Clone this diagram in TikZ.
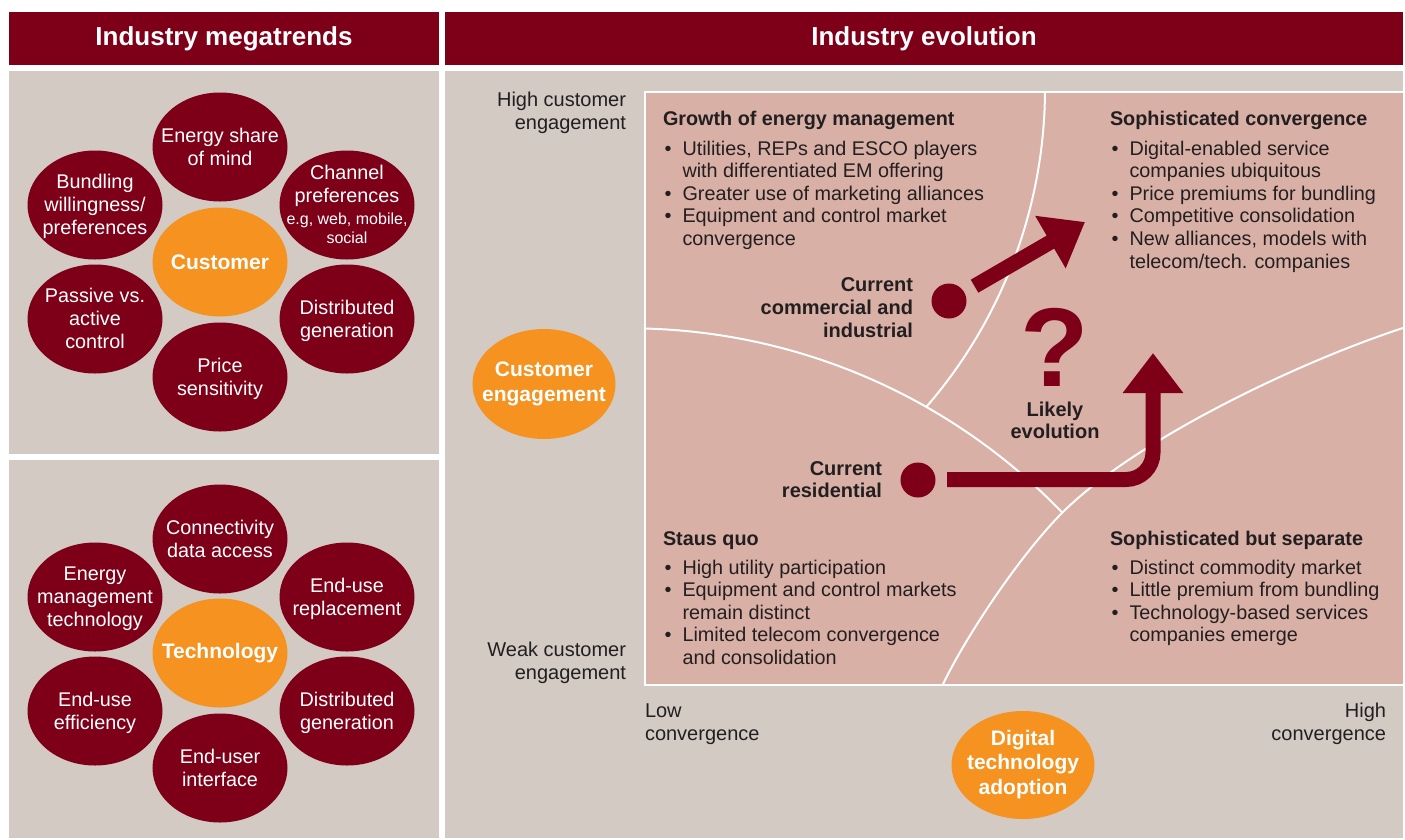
\documentclass[tikz,border=0pt]{standalone}
\usepackage{fontspec}
\setmainfont{Liberation Sans}
\usetikzlibrary{shapes.geometric,arrows.meta}
\definecolor{wine}{RGB}{125,0,24}
\definecolor{orng}{RGB}{245,146,32}
\definecolor{panel}{RGB}{210,202,195}
\definecolor{rose}{RGB}{217,176,166}
\definecolor{ink}{RGB}{35,31,32}
\newcommand\bul{\makebox[19.5pt][l]{\hspace{1.5pt}\textbullet}}
\newcommand\ind{\hspace*{19.5pt}}
\begin{document}
\begin{tikzpicture}[x=1pt,y=-1pt,
  every node/.style={inner sep=0pt, outer sep=0pt},
  hdrtext/.style={text=white, font=\bfseries\fontsize{26}{30}\selectfont, anchor=base},
  darkell/.style={ellipse, fill=wine, minimum width=135pt, minimum height=109pt},
  orgell/.style={ellipse, fill=orng, minimum width=135pt, minimum height=109pt},
  axisell/.style={ellipse, fill=orng, minimum width=143pt, minimum height=109pt},
  ctext/.style={text=white, font=\fontsize{19.8}{23}\selectfont, yshift=-2pt},
  cbold/.style={text=white, font=\bfseries\fontsize{21}{24.5}\selectfont},
  qtext/.style={text=ink, font=\fontsize{19.8}{22.6}\selectfont, anchor=base west},
  lbl/.style={text=ink, font=\fontsize{20}{22.8}\selectfont},
  blbl/.style={text=ink, font=\bfseries\fontsize{20}{22.8}\selectfont},
  bigdot/.style={circle, fill=wine, minimum size=35pt},
  wline/.style={draw=white, line width=2pt},
  bigarrow/.style={draw=wine, line width=15pt, -{Triangle[length=40pt 0 0,width=58pt 0 0]}},
]
\useasboundingbox (0,0) rectangle (1405,839);
\fill[white] (0,0) rectangle (1405,839);
% header bars and panels
\fill[wine] (9,12) rectangle (439,65);
\fill[wine] (445,12) rectangle (1403,65);
\fill[panel] (9,71) rectangle (439,454);
\fill[panel] (9,460) rectangle (439,838);
\fill[panel] (445,71) rectangle (1403,838);
\node[hdrtext] (hL) at (224,45.7) {Industry megatrends};
\node[hdrtext] (hR) at (924,45.7) {Industry evolution};

% customer group
\node[orgell] (cust) at (220,262) {};
\node[cbold] at (cust) {Customer};
\node[darkell] (c1) at (220,147) {};
\node[ctext] at (c1) {\begin{tabular}{@{}c@{}}Energy share\\of mind\end{tabular}};
\node[darkell] (c2) at (95,205) {};
\node[ctext] at (c2) {\begin{tabular}{@{}c@{}}Bundling\\willingness/\\preferences\end{tabular}};
\node[darkell] (c3) at (347,205) {};
\node[ctext] at (c3) {\begin{tabular}{@{}c@{}}Channel\\preferences\\[-1pt]\fontsize{16}{19}\selectfont e.g, web, mobile,\\[-4pt]\fontsize{16}{19}\selectfont social\end{tabular}};
\node[darkell] (c4) at (95,319) {};
\node[ctext] at (c4) {\begin{tabular}{@{}c@{}}Passive vs.\\active\\control\end{tabular}};
\node[darkell] (c5) at (347,319) {};
\node[ctext] at (c5) {\begin{tabular}{@{}c@{}}Distributed\\generation\end{tabular}};
\node[darkell] (c6) at (220,377) {};
\node[ctext] at (c6) {\begin{tabular}{@{}c@{}}Price\\sensitivity\end{tabular}};

% technology group
\node[orgell] (tech) at (220,653) {};
\node[cbold] at (tech) {Technology};
\node[darkell] (t1) at (220,539) {};
\node[ctext] at (t1) {\begin{tabular}{@{}c@{}}Connectivity\\data access\end{tabular}};
\node[darkell] (t2) at (95,597) {};
\node[ctext] at (t2) {\begin{tabular}{@{}c@{}}Energy\\management\\technology\end{tabular}};
\node[darkell] (t3) at (347,597) {};
\node[ctext] at (t3) {\begin{tabular}{@{}c@{}}End-use\\replacement\end{tabular}};
\node[darkell] (t4) at (95,711) {};
\node[ctext] at (t4) {\begin{tabular}{@{}c@{}}End-use\\efficiency\end{tabular}};
\node[darkell] (t5) at (347,711) {};
\node[ctext] at (t5) {\begin{tabular}{@{}c@{}}Distributed\\generation\end{tabular}};
\node[darkell] (t6) at (220,768) {};
\node[ctext] at (t6) {\begin{tabular}{@{}c@{}}End-user\\interface\end{tabular}};

% matrix
\fill[rose] (645,92) rectangle (1403,685);
\draw[wline] (1403,92) -- (645,92) -- (645,685) -- (1403,685);
\coordinate (cA) at (629.2,929.3);
\coordinate (cB) at (559.2,88.75);
\draw[wline] (cA) ++(-88.5:601) arc[start angle=-88.5, end angle=-43.89, radius=601] coordinate (jC);
\coordinate (jA) at ([shift={(-60.38:601)}]cA);
\draw[wline] (cB) ++(0.4:485.8) arc[start angle=0.4, end angle=40.9, radius=485.8];
\draw[wline] (943,684) .. controls (970,629) and +(-39,39) .. (jC)
  .. controls +(70.7,-70.7) and (1293,364) .. (1403,328);

% axis labels
\node[lbl, anchor=base east] (hiE) at (626,106.7) {\begin{tabular}[t]{@{}r@{}}High customer\\engagement\end{tabular}};
\node[lbl, anchor=base east] (loE) at (626,656.7) {\begin{tabular}[t]{@{}r@{}}Weak customer\\engagement\end{tabular}};
\node[lbl, anchor=base west] (loC) at (645,717.7) {\begin{tabular}[t]{@{}l@{}}Low\\convergence\end{tabular}};
\node[lbl, anchor=base east] (hiC) at (1386,717.7) {\begin{tabular}[t]{@{}r@{}}High\\convergence\end{tabular}};
\node[axisell, minimum height=110pt] (ce) at (544,384) {};
\node[cbold, font=\bfseries\fontsize{21}{24.3}\selectfont] at (ce) {\begin{tabular}{@{}c@{}}Customer\\engagement\end{tabular}};
\node[axisell, minimum height=108pt] (dta) at (1023,765) {};
\node[cbold, font=\bfseries\fontsize{21}{24.5}\selectfont] at (dta) {\begin{tabular}{@{}c@{}}Digital\\technology\\adoption\end{tabular}};

% quadrant texts
\node[qtext] (qTL) at (663,125.5) {\begin{tabular}[t]{@{}l@{}}\textbf{Growth of energy management}\\[7pt]\bul Utilities, REPs and ESCO players\\\ind with differentiated EM offering\\\bul Greater use of marketing alliances\\\bul Equipment and control market\\\ind convergence\end{tabular}};
\node[qtext] (qTR) at (1110,125.5) {\begin{tabular}[t]{@{}l@{}}\textbf{Sophisticated convergence}\\[7pt]\bul Digital-enabled service\\\ind companies ubiquitous\\\bul Price premiums for bundling\\\bul Competitive consolidation\\\bul New alliances, models with\\\ind telecom/tech. companies\end{tabular}};
\node[qtext] (qBL) at (663,545) {\begin{tabular}[t]{@{}l@{}}\textbf{Staus quo}\\[6.5pt]\bul High utility participation\\\bul Equipment and control markets\\\ind remain distinct\\\bul Limited telecom convergence\\\ind and consolidation\end{tabular}};
\node[qtext] (qBR) at (1110,545) {\begin{tabular}[t]{@{}l@{}}\textbf{Sophisticated but separate}\\[6.5pt]\bul Distinct commodity market\\\bul Little premium from bundling\\\bul Technology-based services\\\ind companies emerge\end{tabular}};

% positions and arrows
\node[blbl, anchor=base east] (lC) at (913,291.7) {\begin{tabular}[t]{@{}r@{}}Current\\commercial and\\industrial\end{tabular}};
\node[blbl, anchor=base east] (lR) at (882,475) {\begin{tabular}[t]{@{}r@{}}Current\\residential\end{tabular}};
\node[bigdot] (dotC) at (949,301) {};
\node[bigdot] (dotR) at (918,480) {};
\node[text=wine, font=\bfseries\fontsize{112}{112}\selectfont, anchor=base] (qm) at (1055,386.5) {?};
\node[blbl, anchor=base] (lik) at (1055,416) {\begin{tabular}[t]{@{}c@{}}Likely\\evolution\end{tabular}};
\coordinate (tipC) at (1085,222);
\coordinate (bendR) at (1153,479.5);
\coordinate (tipR) at (1153,353);
\draw[bigarrow, shorten <=12pt] (dotC) -- (tipC);
\draw[bigarrow, rounded corners=27pt, shorten <=11.5pt] (dotR.east |- bendR) -- (bendR) -- (tipR);
\end{tikzpicture}
\end{document}
